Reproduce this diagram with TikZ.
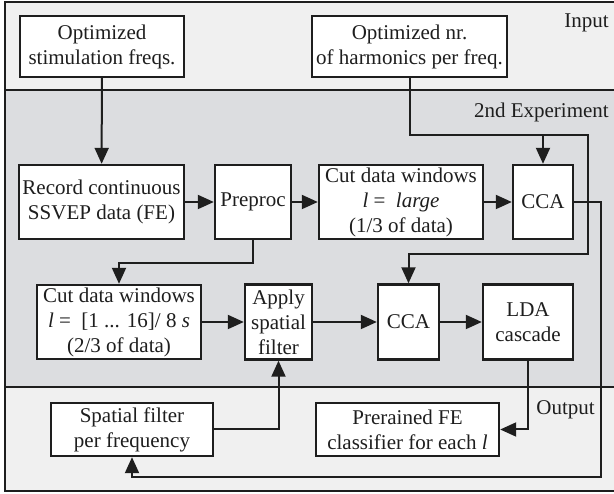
\documentclass[tikz,border=0pt]{standalone}
\usepackage{fontspec}
\setmainfont{Liberation Serif}
\usetikzlibrary{arrows.meta}
\definecolor{inband}{RGB}{240,240,240}
\definecolor{expband}{RGB}{220,221,224}
\definecolor{ink}{RGB}{30,30,30}

\begin{document}
\begin{tikzpicture}[
  x=1pt, y=-1pt,
  font=\rmfamily\fontsize{21}{25}\selectfont, text=ink,
  box/.style={draw=ink, line width=2.4pt, fill=white, align=center, inner sep=0pt},
  flow/.style={draw=ink, line width=2pt, -{Triangle[length=16pt,width=14pt]}},
  tag/.style={anchor=east, inner sep=0pt}
]
\useasboundingbox (0,0) rectangle (614,494);
% three stages as horizontal bands
\fill[inband] (5,2) rectangle (616,90);
\fill[expband] (5,90) rectangle (616,387);
\fill[inband] (5,387) rectangle (616,491);
\draw[ink, line width=2pt] (5,90) -- (616,90) (5,387) -- (616,387);
\draw[ink, line width=2pt] (5,2) rectangle (616,491);
\node[tag] (lin) at (609,23) {Input};
\node[tag] (lexp) at (609,112) {2nd Experiment};
\node[tag] (lout) at (595,410) {Output};

% input
\node[box, minimum width=164pt, minimum height=61pt] (inopt) at (102,46.5) {Optimized\\stimulation freqs.};
\node[box, minimum width=195pt, minimum height=61pt] (inharm) at (409.5,46.5) {Optimized nr.\\of harmonics per freq.};

% experiment, first row
\node[box, minimum width=165pt, minimum height=74pt] (rec) at (101.5,202) {Record continuous\\SSVEP data (FE)};
\node[box, minimum width=76pt, minimum height=74pt] (prep) at (253,202) {Preproc};
\node[box, minimum width=164pt, minimum height=74pt] (cutl) at (401,202) {Cut data windows\\\textit{l} = \ \textit{large}\\(1/3 of data)};
\node[box, minimum width=60pt, minimum height=74pt] (ccaa) at (543,202) {CCA};

% experiment, second row
\node[box, minimum width=164pt, minimum height=74pt] (cuts) at (119,322) {Cut data windows\\\textit{l} = \ [1 ... 16]/ 8 \textit{s}\\(2/3 of data)};
\node[box, minimum width=67pt, minimum height=75pt] (apply) at (278.5,322) {Apply\\spatial\\filter};
\node[box, minimum width=61pt, minimum height=75pt] (ccab) at (408.5,322) {CCA};
\node[box, minimum width=90pt, minimum height=75pt] (lda) at (528,322) {LDA\\cascade};

% output
\node[box, minimum width=162pt, minimum height=53pt] (sfilt) at (132,429.5) {Spatial filter\\per frequency};
\node[box, minimum width=183pt, minimum height=53pt] (clf) at (407.5,429.5) {Prerained FE\\classifier for each \textit{l}};

\coordinate (hturn) at (588,135);
\coordinate (hdrop) at (588,254);
\coordinate (fbturn) at (601,477);

\draw[flow] (inopt) -- (rec);
\draw[flow] (rec) -- (prep);
\draw[flow] (prep) -- (cutl);
\draw[flow] (cutl) -- (ccaa);
\draw[flow] (prep.south) -- ++(0,23) -| (cuts.north);
\draw[flow] (cuts) -- (apply);
\draw[flow] (apply) -- (ccab);
\draw[flow] (ccab) -- (lda);
\draw[flow] (inharm.south) |- (hturn) -- (hdrop) -| (ccab.north);
\draw[flow] (ccaa.north |- hturn) -- (ccaa.north);
\draw[flow] (ccaa.east) -| (fbturn) -| (sfilt.south);
\draw[flow] (sfilt.east) -| (apply.south);
\draw[flow] (lda.south) |- (clf.east);
\end{tikzpicture}
\end{document}
